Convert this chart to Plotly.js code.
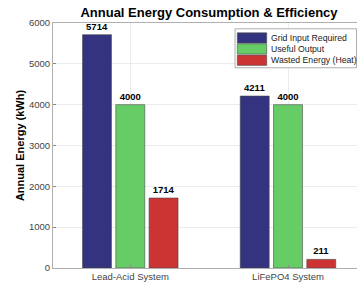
<!DOCTYPE html>
<html>
<head>
<meta charset="utf-8">
<script src="https://cdn.plot.ly/plotly-3.0.1.min.js"></script>
<style>
html,body{margin:0;padding:0;overflow:hidden;background:#fff;}
#chart{width:357px;height:287px;}
</style>
</head>
<body>
<div id="chart"></div>
<script>
const categories = ["Lead-Acid System", "LiFePO4 System"];
const seriesNames = ["Grid Input Required", "Useful Output", "Wasted Energy (Heat)"];
const gridInput = [5714, 4211];
const usefulOutput = [4000, 4000];
const wastedEnergy = [1714, 211];
const yTicks = [0, 1000, 2000, 3000, 4000, 5000, 6000];
const colors = ["#33337f", "#66cc66", "#cc3333"];

const W = 357, H = 287;
const M = {l: 53, r: 0, t: 22.5, b: 19.3};
const PW = W - M.l - M.r, PH = H - M.t - M.b;
const xp = px => (px - M.l) / PW;
const yp = py => (H - M.b - py) / PH;

const values = [gridInput, usefulOutput, wastedEnergy];
const traces = values.map((v, i) => ({
  type: "bar",
  name: seriesNames[i],
  x: categories,
  y: v,
  text: v.map(String),
  textposition: "outside",
  textfont: {family: "Liberation Sans, Arial, sans-serif", size: 9.5, color: "#000", weight: "bold"},
  cliponaxis: false,
  marker: {color: colors[i], line: {color: "#4a4a4a", width: 0.6}},
  hoverinfo: "skip",
  showlegend: false
}));

// compact legend box (MATLAB style)
const shapes = [{
  type: "rect", xref: "paper", yref: "paper",
  x0: xp(235), x1: xp(356.5), y0: yp(67.3), y1: yp(28.3),
  fillcolor: "#fff", line: {color: "#999", width: 0.8}, layer: "above"
}];
const annotations = [];
const rowTop = [32.3, 43.3, 54.6];
seriesNames.forEach((n, i) => {
  shapes.push({
    type: "rect", xref: "paper", yref: "paper",
    x0: xp(237.3), x1: xp(266.7), y0: yp(rowTop[i] + 10.3), y1: yp(rowTop[i]),
    fillcolor: colors[i], line: {color: "#4a4a4a", width: 0.6}, layer: "above"
  });
  annotations.push({
    xref: "paper", yref: "paper", x: xp(269), y: yp(rowTop[i] + 5.2),
    xanchor: "left", yanchor: "middle", showarrow: false,
    text: n, font: {size: 8.7, color: "#222"}
  });
});

const layout = {
  width: W, height: H,
  margin: {l: M.l, r: M.r, t: M.t, b: M.b, pad: 0, autoexpand: false},
  paper_bgcolor: "#fff", plot_bgcolor: "#fff",
  font: {family: "Liberation Sans, Arial, sans-serif", color: "#333"},
  title: {
    text: "<b>Annual Energy Consumption & Efficiency</b>",
    font: {size: 13, color: "#000"},
    x: 209/357, xanchor: "center", xref: "container",
    y: 1 - 12.5/287, yanchor: "middle", yref: "container"
  },
  barmode: "group",
  bargap: 0.367,
  bargroupgap: 0.13,
  showlegend: false,
  shapes: shapes,
  annotations: annotations,
  xaxis: {
    type: "category",
    range: [-0.49, 1.4375],
    tickvals: categories, ticktext: categories,
    tickfont: {size: 9.5, color: "#444"},
    showgrid: true, gridcolor: "#ebebeb", gridwidth: 1,
    showline: true, linecolor: "#b0b0b0", linewidth: 1, mirror: true,
    ticks: "inside", ticklen: 3, tickcolor: "#888",
    zeroline: false, fixedrange: true
  },
  yaxis: {
    range: [0, 6000],
    tickvals: yTicks,
    tickfont: {size: 9.5, color: "#444"},
    title: {text: "<b>Annual Energy (kWh)</b>", font: {size: 11, color: "#000"}, standoff: 2},
    showgrid: true, gridcolor: "#ebebeb", gridwidth: 1,
    showline: true, linecolor: "#b0b0b0", linewidth: 1, mirror: true,
    ticks: "inside", ticklen: 3, tickcolor: "#888",
    zeroline: false, fixedrange: true
  }
};

Plotly.newPlot("chart", traces, layout, {displayModeBar: false, staticPlot: true});
</script>
</body>
</html>
